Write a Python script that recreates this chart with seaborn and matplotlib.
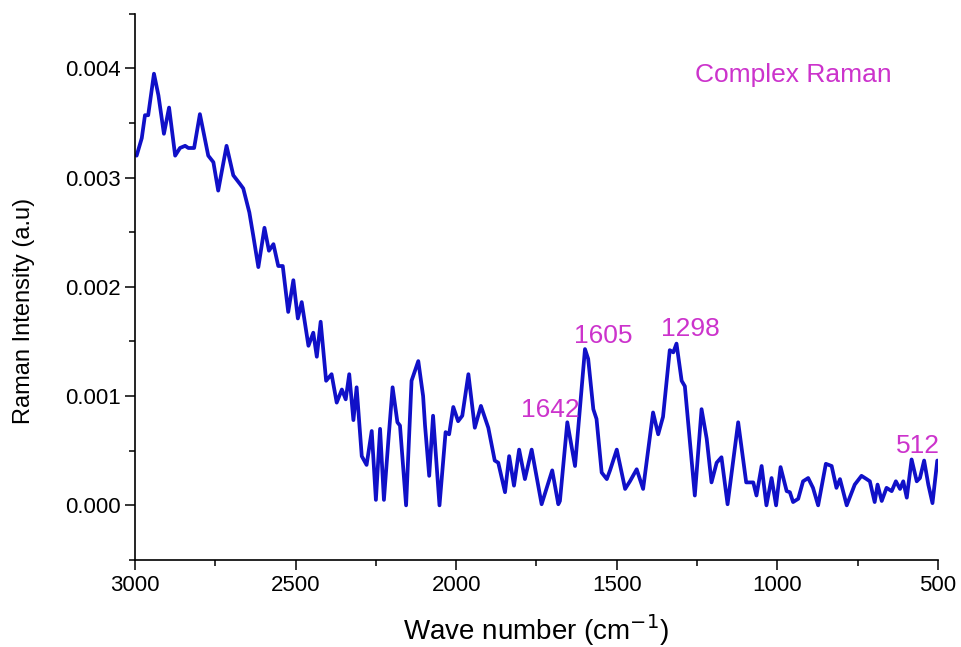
import numpy as np
import pandas as pd
import matplotlib
matplotlib.use("Agg")
import matplotlib.pyplot as plt
import seaborn as sns
from matplotlib.ticker import MultipleLocator, FormatStrFormatter

# wave number (cm-1) and Raman intensity (a.u)
wavenumber = [
    2995, 2979, 2969, 2959, 2941, 2927, 2910, 2894, 2875, 2860,
    2844, 2834, 2816, 2798, 2772, 2756, 2741, 2715, 2694, 2673,
    2663, 2644, 2632, 2616, 2597, 2583, 2569, 2554, 2540, 2523,
    2507, 2493, 2481, 2460, 2445, 2434, 2422, 2405, 2388, 2372,
    2356, 2344, 2333, 2320, 2310, 2294, 2279, 2263, 2250, 2237,
    2225, 2211, 2198, 2183, 2175, 2156, 2139, 2118, 2103, 2097,
    2084, 2072, 2052, 2033, 2022, 2009, 1994, 1981, 1962, 1942,
    1923, 1900, 1880, 1869, 1848, 1835, 1820, 1804, 1786, 1765,
    1734, 1701, 1682, 1677, 1654, 1630, 1599, 1589, 1573, 1563,
    1547, 1531, 1521, 1500, 1474, 1459, 1438, 1418, 1387, 1371,
    1356, 1335, 1324, 1314, 1298, 1288, 1257, 1236, 1220, 1205,
    1189, 1174, 1155, 1122, 1097, 1086, 1075, 1065, 1049, 1034,
    1018, 1004, 990, 971, 961, 951, 935, 920, 904, 889,
    873, 849, 831, 816, 805, 784, 759, 738, 722, 712,
    697, 688, 675, 660, 644, 631, 618, 608, 597, 582,
    566, 556, 543, 530, 517, 502,
]
intensity = [
    0.00320, 0.00336, 0.00357, 0.00357, 0.00395, 0.00375, 0.00340, 0.00364, 0.00320, 0.00327,
    0.00329, 0.00327, 0.00327, 0.00358, 0.00320, 0.00314, 0.00288, 0.00329, 0.00302, 0.00294,
    0.00290, 0.00268, 0.00247, 0.00218, 0.00254, 0.00233, 0.00239, 0.00219, 0.00219, 0.00177,
    0.00206, 0.00171, 0.00186, 0.00146, 0.00158, 0.00136, 0.00168, 0.00114, 0.00120, 0.00094,
    0.00106, 0.00097, 0.00120, 0.00078, 0.00108, 0.00045, 0.00037, 0.00068, 0.00005, 0.00070,
    0.00005, 0.00060, 0.00108, 0.00076, 0.00073, 0.00000, 0.00114, 0.00132, 0.00100, 0.00073,
    0.00027, 0.00082, 0.00000, 0.00067, 0.00065, 0.00090, 0.00077, 0.00082, 0.00120, 0.00071,
    0.00091, 0.00071, 0.00041, 0.00039, 0.00012, 0.00045, 0.00018, 0.00051, 0.00024, 0.00051,
    0.00001, 0.00032, 0.00001, 0.00004, 0.00076, 0.00036, 0.00143, 0.00134, 0.00088, 0.00079,
    0.00030, 0.00024, 0.00032, 0.00051, 0.00015, 0.00022, 0.00033, 0.00015, 0.00085, 0.00065,
    0.00081, 0.00142, 0.00140, 0.00148, 0.00114, 0.00109, 0.00009, 0.00088, 0.00061, 0.00021,
    0.00039, 0.00044, 0.00001, 0.00076, 0.00021, 0.00021, 0.00021, 0.00009, 0.00036, 0.00000,
    0.00025, 0.00000, 0.00035, 0.00013, 0.00012, 0.00003, 0.00006, 0.00022, 0.00025, 0.00016,
    0.00000, 0.00038, 0.00036, 0.00016, 0.00024, 0.00000, 0.00019, 0.00027, 0.00024, 0.00022,
    0.00003, 0.00019, 0.00004, 0.00016, 0.00013, 0.00022, 0.00015, 0.00022, 0.00007, 0.00042,
    0.00022, 0.00025, 0.00041, 0.00019, 0.00002, 0.00041,
]

peak_labels = ["1642", "1605", "1298", "512"]
peak_x      = [1708, 1543, 1272, 562]
peak_y      = [0.00087, 0.00155, 0.00161, 0.00054]

LINE_COLOR  = "#1010C8"
LABEL_COLOR = "#CC33CC"

df = pd.DataFrame({"wavenumber": wavenumber, "intensity": intensity})

sns.set_style("ticks")
plt.rcParams["font.family"] = ["Liberation Sans", "DejaVu Sans"]

fig, ax = plt.subplots(figsize=(9.61, 6.47), dpi=100)
fig.subplots_adjust(left=0.1405, right=0.976, bottom=0.1345, top=0.979)

sns.lineplot(data=df, x="wavenumber", y="intensity", ax=ax,
             color=LINE_COLOR, lw=2.7, solid_joinstyle="round",
             solid_capstyle="round")

ax.set_xlim(3000, 500)
ax.set_ylim(-0.0005, 0.0045)
ax.xaxis.set_major_locator(MultipleLocator(500))
ax.xaxis.set_minor_locator(MultipleLocator(250))
ax.yaxis.set_minor_locator(MultipleLocator(0.0005))
ax.set_yticks([0, 0.001, 0.002, 0.003, 0.004])
ax.yaxis.set_major_formatter(FormatStrFormatter("%.3f"))

ax.tick_params(which="major", length=7, width=1.1, labelsize=16, direction="out", colors="black")
ax.tick_params(which="minor", length=4, width=1.1, direction="out", colors="black")
sns.despine(ax=ax)
for sp in ("left", "bottom"):
    ax.spines[sp].set_linewidth(1.2)
    ax.spines[sp].set_color("black")

ax.set_xlabel("Wave number (cm$^{-1}$)", fontsize=20, labelpad=12, color="black")
ax.set_ylabel("Raman Intensity (a.u)", fontsize=17, color="black")
ax.yaxis.set_label_coords(-0.124, 0.455)

for lab, px, py in zip(peak_labels, peak_x, peak_y):
    ax.text(px, py, lab, color=LABEL_COLOR, fontsize=19, ha="center", va="center")
ax.text(949, 0.00394, "Complex Raman", color=LABEL_COLOR, fontsize=19, ha="center", va="center")

plt.savefig("out.png", dpi=100)
plt.close()
